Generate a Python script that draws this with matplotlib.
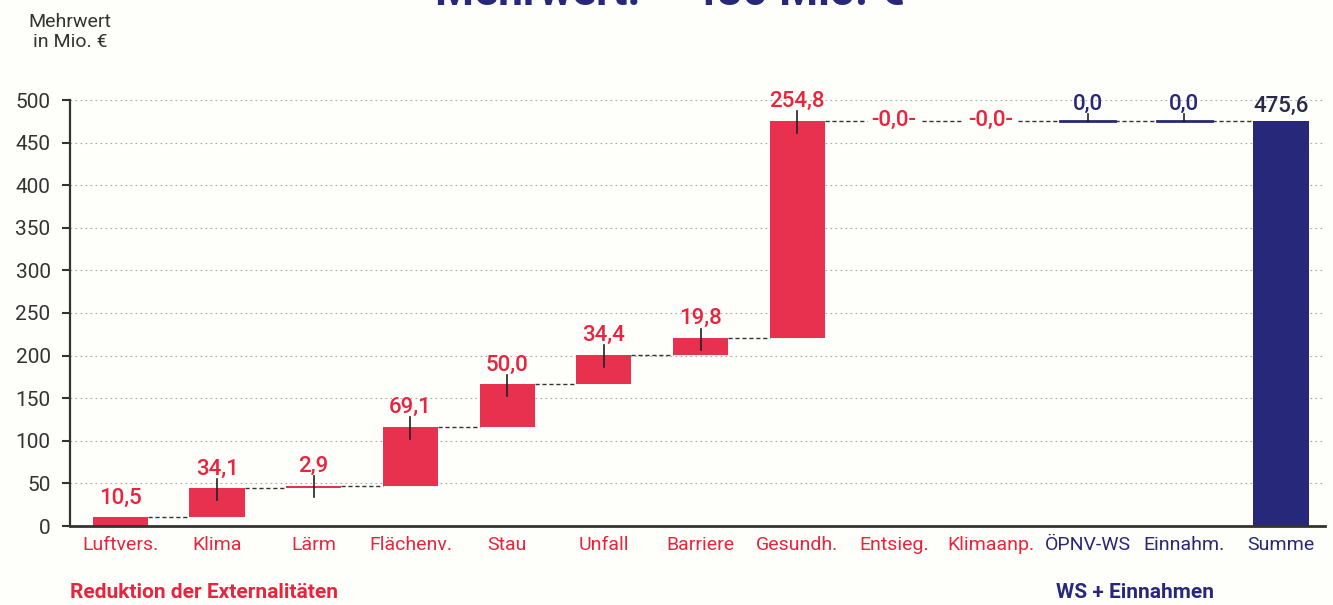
import matplotlib.pyplot as plt
import numpy as np

# Daten
kategorien = ["Luftvers.", "Klima", "Lärm", "Flächenv.", "Stau", "Unfall", "Barriere",
              "Gesundh.", "Entsieg.", "Klimaanp.", "ÖPNV-WS", "Einnahm.", "Summe"]
werte = [10.5, 34.1, 2.9, 69.1, 50.0, 34.4, 19.8, 254.8, 0.0, 0.0, 0.0, 0.0]
gruppe = ["ext"] * 10 + ["ws"] * 2
summe = 475.6
yticks = [0, 50, 100, 150, 200, 250, 300, 350, 400, 450, 500]

ROT = "#e8304f"
ROT_TXT = "#e8243f"
BLAU = "#28287a"
BG = "#fefefa"

plt.rcParams['font.family'] = ['Roboto', 'DejaVu Sans']

fig = plt.figure(figsize=(13.33, 6.05), dpi=100)
fig.patch.set_facecolor(BG)
ax = fig.add_axes([70 / 1333, 1 - 526 / 605, (1324.5 - 70) / 1333, 426 / 605])
ax.set_facecolor(BG)

x = np.arange(len(kategorien))
breite = 0.57
start = np.concatenate([[0], np.cumsum(werte)[:-1]])
ende = np.cumsum(werte)

# Gitter
for t in yticks[1:]:
    ax.axhline(t, color="#a8a8a8", lw=0.8, ls=(0, (1.5, 3)), zorder=0)

for i, w in enumerate(werte):
    farbe = ROT if gruppe[i] == "ext" else BLAU
    txtfarbe = ROT_TXT if gruppe[i] == "ext" else BLAU
    if w > 0:
        ax.bar(x[i], w, bottom=start[i], width=breite, color=farbe, zorder=2)
        if i > 0:
            ax.plot([x[i], x[i]], [ende[i] - 14, ende[i] + 11], color="#222222", lw=1.2, zorder=3)
        ax.text(x[i], ende[i] + 10, f"{w:.1f}".replace(".", ","), ha="center", va="bottom",
                color=txtfarbe, fontsize=16, fontweight="medium")
    elif gruppe[i] == "ext":
        ax.text(x[i], ende[i], f"-{w:.1f}-".replace(".", ","), ha="center", va="center",
                color=txtfarbe, fontsize=16, fontweight="medium", zorder=4,
                bbox=dict(fc=BG, ec="none", pad=0.3))
    else:
        ax.plot([x[i] - breite / 2, x[i] + breite / 2], [ende[i], ende[i]], color=BLAU, lw=2, zorder=3)
        ax.plot([x[i], x[i]], [ende[i], ende[i] + 8], color="#222222", lw=1.2, zorder=3)
        ax.text(x[i], ende[i] + 7, f"{w:.1f}".replace(".", ","), ha="center", va="bottom",
                color=txtfarbe, fontsize=16, fontweight="medium")

# Summe
ax.bar(x[-1], summe, width=breite, color=BLAU, zorder=2)
ax.text(x[-1], summe + 5, f"{summe:.1f}".replace(".", ","), ha="center", va="bottom",
        color="#2a2a48", fontsize=16, fontweight="medium")

# Verbindungslinien
for i in range(len(werte)):
    ax.plot([x[i] + breite / 2, x[i + 1] - breite / 2], [ende[i], ende[i]],
            color="#333333", lw=1, ls=(0, (3, 2)), zorder=1)

ax.set_xlim(-0.52, 12.45)
ax.set_ylim(0, 500)
ax.set_yticks(yticks)
ax.set_xticks(x)
ax.set_xticklabels(kategorien)
for i, lbl in enumerate(ax.get_xticklabels()):
    lbl.set_color(ROT_TXT if i < 10 else BLAU)
ax.tick_params(axis="x", length=0, pad=7, labelsize=14)
ax.tick_params(axis="y", length=6, width=1.5, labelsize=15, colors="#333333", pad=8)
for s in ["top", "right"]:
    ax.spines[s].set_visible(False)
ax.spines["left"].set_linewidth(1.6)
ax.spines["bottom"].set_linewidth(2)
ax.spines["left"].set_color("#333333")
ax.spines["bottom"].set_color("#333333")

fig.text(70 / 1333, 1 - 32 / 605, "Mehrwert\nin Mio. €", ha="center", va="center",
         fontsize=14, color="#333333", linespacing=1.1)
fig.text(70 / 1333, 1 - 592 / 605, "Reduktion der Externalitäten", ha="left", va="center",
         fontsize=15, fontweight="bold", color=ROT_TXT)
fig.text(1135 / 1333, 1 - 592 / 605, "WS + Einnahmen", ha="center", va="center",
         fontsize=15, fontweight="bold", color=BLAU)
fig.text(670 / 1333, 1 + 7 / 605, "Mehrwert: ~ 480 Mio. €", ha="center", va="center",
         fontsize=32, fontweight="bold", color=BLAU)

fig.savefig("out.png", dpi=100, facecolor=fig.get_facecolor())
